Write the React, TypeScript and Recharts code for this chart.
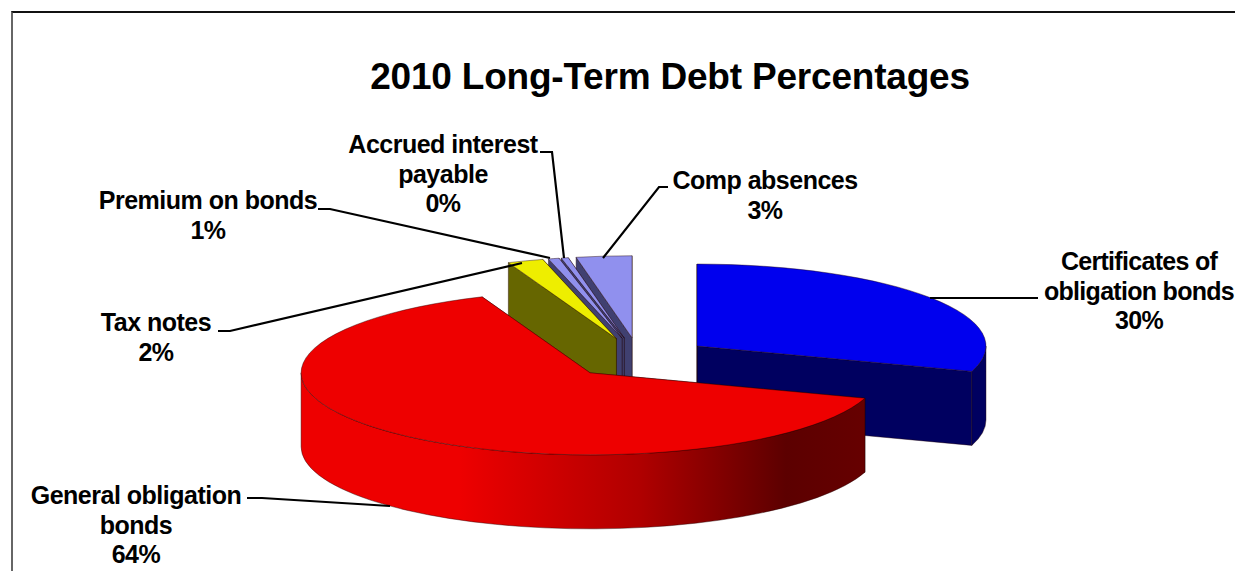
import React from 'react'
import { PieChart, Pie } from 'recharts'

const sliceNames = ['Certificates of obligation bonds', 'Comp absences', 'Accrued interest payable', 'Premium on bonds', 'Tax notes', 'General obligation bonds']
const sliceValues = [30.0, 3.1, 0.4, 0.6, 2.0, 63.9]
const topColors = ['#0000ee', '#9090ee', '#9090ee', '#9090ee', '#eeee00', '#ee0000']
const wallColors = ['#000060', '#404070', '#404070', '#404070', '#666600', 'url(#redWall)']
const labelLines = [
    ['Certificates of', 'obligation bonds'],
    ['Comp absences'],
    ['Accrued interest', 'payable'],
    ['Premium on bonds'],
    ['Tax notes'],
    ['General obligation', 'bonds'],
]

const WIDTH = 1235
const HEIGHT = 571
const CX = 639
const CY = 358
const RADIUS = 289
const TILT = 82 / 289 // squash of the pie disc
const DEPTH = 74
const EXPLODE = 0.248

// text anchor + leader line for each slice, same order as sliceNames
const labelLayout = [
    { x: 1139, y: 270, spacing: -0.7, leader: '930,298 1038,298' },
    { x: 765, y: 189, spacing: -0.5, leader: '668,187 659,187 603,258' },
    { x: 443, y: 153, spacing: -0.5, leader: '540,152 552,152 564,258' },
    { x: 208, y: 209, spacing: -0.5, leader: '318,209 330,209 550,258' },
    { x: 156, y: 331, spacing: -0.5, leader: '218,331 230,331 522,263' },
    { x: 136, y: 504, spacing: -0.5, leader: '247,498 262,498 390,506' },
]

const rows = sliceNames.map((name, i) => ({ name, value: sliceValues[i] }))
// first slice ends exactly at 12 o'clock, later ones run on anticlockwise
const START = 90 - (sliceValues[0] * 360) / 100

const rad = (deg: number) => (deg * Math.PI) / 180

function Slice3D(props: any) {
    const { cx, cy, outerRadius, startAngle, endAngle, index } = props
    const rx = outerRadius
    const ry = outerRadius * TILT
    const mid = (startAngle + endAngle) / 2
    const ax = cx + EXPLODE * rx * Math.cos(rad(mid))
    const ay = cy - EXPLODE * ry * Math.sin(rad(mid))
    const pt = (deg: number, dz = 0) => [ax + rx * Math.cos(rad(deg)), ay - ry * Math.sin(rad(deg)) + dz]
    const large = endAngle - startAngle > 180 ? 1 : 0
    const [sx, sy] = pt(startAngle)
    const [ex, ey] = pt(endAngle)

    const radialWall = (deg: number) => {
        const [px, py] = pt(deg)
        return `M${ax},${ay} L${px},${py} L${px},${py + DEPTH} L${ax},${ay + DEPTH} Z`
    }

    // outer rim only shows on the part of the disc facing the viewer
    const rimParts: string[] = []
    for (const [lo, hi] of [[-180, 0], [180, 360]]) {
        const a = Math.max(startAngle, lo)
        const b = Math.min(endAngle, hi)
        if (b <= a) continue
        const [x1, y1] = pt(a)
        const [x2, y2] = pt(b)
        const big = b - a > 180 ? 1 : 0
        rimParts.push(
            `M${x1},${y1} A${rx},${ry} 0 ${big} 0 ${x2},${y2} L${x2},${y2 + DEPTH} A${rx},${ry} 0 ${big} 1 ${x1},${y1 + DEPTH} Z`
        )
    }

    const edge = { stroke: '#200000', strokeWidth: 0.6, strokeOpacity: 0.7 }
    return (
        <g>
            <defs>
                <linearGradient id="redWall" gradientUnits="userSpaceOnUse" x1={301} y1={0} x2={865} y2={0}>
                    <stop offset="0" stopColor="#ee0000" />
                    <stop offset="0.28" stopColor="#ee0000" />
                    <stop offset="0.6" stopColor="#b00000" />
                    <stop offset="0.86" stopColor="#5c0000" />
                    <stop offset="1" stopColor="#660000" />
                </linearGradient>
            </defs>
            <path d={radialWall(startAngle)} fill={wallColors[index]} {...edge} />
            <path d={radialWall(endAngle)} fill={wallColors[index]} {...edge} />
            {rimParts.map((d, i) => (
                <path key={i} d={d} fill={wallColors[index]} {...edge} />
            ))}
            <path
                d={`M${ax},${ay} L${sx},${sy} A${rx},${ry} 0 ${large} 0 ${ex},${ey} Z`}
                fill={topColors[index]}
                {...edge}
            />
        </g>
    )
}

const renderLabel = (props: any) => {
    const { index, value } = props
    const layout = labelLayout[index]
    const lines = [...labelLines[index], `${Math.round(value)}%`]
    return (
        <g key={index}>
            <polyline points={layout.leader} fill="none" stroke="#000" strokeWidth={2.2} />
            <text
                x={layout.x}
                y={layout.y}
                textAnchor="middle"
                fontFamily="'Liberation Sans', Arial, sans-serif"
                fontWeight={700}
                fontSize={25}
                letterSpacing={layout.spacing}
                fill="#000"
            >
                {lines.map((line, i) => (
                    <tspan key={i} x={layout.x} dy={i === 0 ? 0 : 29.5}>
                        {line}
                    </tspan>
                ))}
            </text>
        </g>
    )
}

export default function App() {
    return (
        <div style={{ position: 'absolute', left: 0, top: 0, width: WIDTH, height: HEIGHT, overflow: 'hidden', background: '#fff' }}>
            <div
                style={{
                    position: 'absolute',
                    left: 11,
                    top: 11,
                    width: WIDTH,
                    height: HEIGHT,
                    borderTop: '2px solid #111',
                    borderLeft: '2px solid #666',
                }}
            />
            <div style={{ position: 'absolute', left: 0, top: 0 }}>
                <PieChart width={WIDTH} height={HEIGHT} margin={{ top: 0, right: 0, bottom: 0, left: 0 }}>
                    <text
                        x={670}
                        y={89}
                        textAnchor="middle"
                        fontFamily="'Liberation Sans', Arial, sans-serif"
                        fontWeight={700}
                        fontSize={37}
                        letterSpacing={-0.2}
                        fill="#000"
                    >
                        2010 Long-Term Debt Percentages
                    </text>
                    <Pie
                        data={rows}
                        dataKey="value"
                        nameKey="name"
                        cx={CX}
                        cy={CY}
                        innerRadius={0}
                        outerRadius={RADIUS}
                        startAngle={START}
                        endAngle={START + 360}
                        shape={Slice3D}
                        label={renderLabel}
                        labelLine={false}
                        isAnimationActive={false}
                    />
                </PieChart>
            </div>
        </div>
    )
}
